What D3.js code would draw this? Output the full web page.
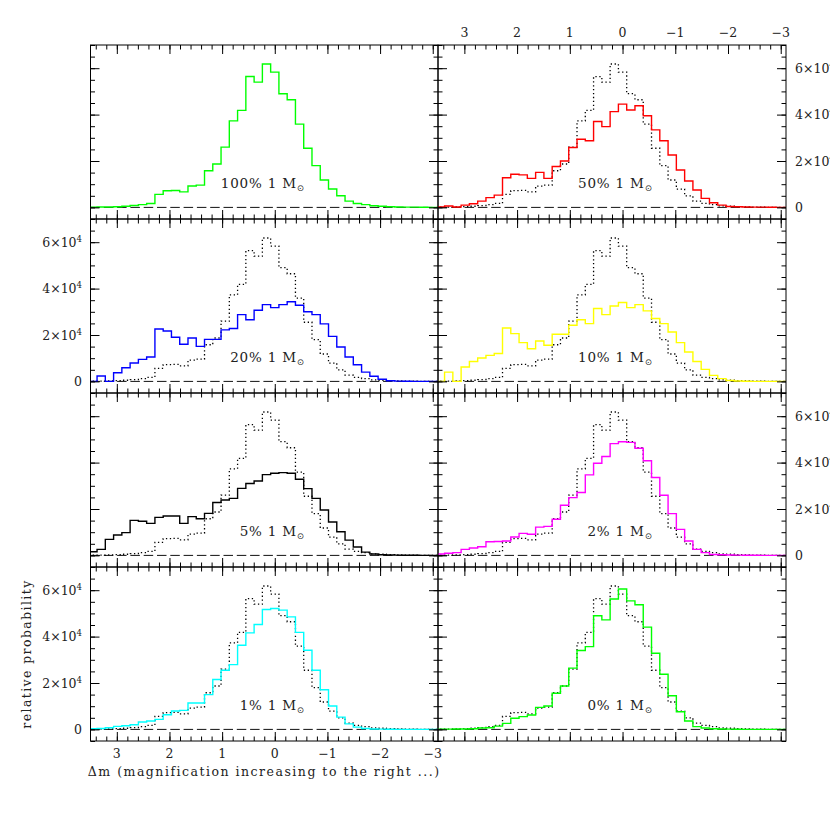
<!DOCTYPE html>
<html><head><meta charset="utf-8">
<script src="https://cdn.jsdelivr.net/npm/d3@7"></script>
<style>body{margin:0;background:#fff} svg{display:block}</style>
</head><body><svg id="c" width="830" height="830"></svg>
<script>
// ---- data ----
const binWidth = 0.157;           // histogram bin width (mag)
const firstBinCenter = 3.454;     // center of first (leftmost) bin
const xTicks = [3, 2, 1, 0, -1, -2, -3];
const yTicks = [0, 20000, 40000, 60000];
const yTickLabels = ["0", "2×10", "4×10", "6×10"];
const panelLabels = ["100%", "50%", "20%", "10%", "5%", "2%", "1%", "0%"];
const panelColors = ["#00ff00", "#ff0000", "#0000ff", "#ffff00", "#000000", "#ff00ff", "#00ffff", "#00ff00"];

const p100 = [100,150,200,300,500,800,1200,1700,5600,7200,7300,6700,9200,9600,15800,18700,26000,37300,41800,56400,54000,61800,58300,49000,46400,35900,25500,18000,11800,7900,5000,2700,1700,1200,700,500,300,200,100,100,50,0,0];
const p50 = [200,600,200,1000,1600,2700,4200,5300,12800,14300,14000,12500,15100,12500,17600,20000,25800,29400,28700,37000,34800,41300,44500,42000,43800,39500,33400,28700,22600,16100,11400,7500,3900,2000,1000,400,300,200,100,100,50,0,0];
const p20 = [0,2300,0,3700,5900,7900,9500,10500,22600,21700,19000,16000,18700,15100,18100,18100,22200,22800,28800,26600,30700,33100,31800,33100,34300,32800,30000,28800,24800,19400,14800,10500,7200,4000,2200,900,300,100,50,0,0,0,0];
const p10 = [0,4000,0,6200,8600,10100,11200,12000,23000,20600,16700,14100,17400,15600,20300,20300,24200,26600,24900,31400,28800,32500,34000,31800,33100,30400,27100,24900,21300,16700,12700,8600,5200,2600,1200,400,150,50,0,0,0,0,0];
const p5 = [1600,2600,6900,8800,9800,15100,14700,13800,16400,17000,17000,13800,16700,15800,18100,22800,23900,24600,28900,31000,32100,34800,35400,35700,35400,32800,28800,24600,19600,14400,10200,6600,3600,1400,600,300,150,100,50,50,0,0,0];
const p2 = [600,900,1200,2600,3200,3700,5900,6000,6200,7900,9500,9100,12200,12500,15600,21600,24900,27100,34700,39700,42600,48200,49000,48700,46200,40800,33600,25900,18000,11200,6200,2600,1200,400,300,150,100,50,50,0,0,0,0];
const p1 = [300,400,700,1300,1600,2000,3200,3600,4300,6300,7900,8200,11400,11400,15000,21500,25500,27900,36300,41600,45200,51700,52100,51400,48500,41800,34100,25500,17100,10100,5300,2400,1000,400,150,100,50,0,0,0,0,0,0];
const p0 = [100,100,150,200,300,600,700,1400,2600,4800,5500,6200,9500,10100,15600,18700,26400,34000,35700,49000,47200,56200,60500,55400,53700,44100,32800,23800,14500,7600,3600,1200,600,300,150,100,50,0,0,0,0,0,0];
const panelSeries = [p100, p50, p20, p10, p5, p2, p1, p0];

// ---- layout ----
const W = 830, H = 830;
const colX = [[90.5, 438], [438, 786]];
const rowTop = 45, rowH = 174;
const xDomain = [3.5, -3.1], yDomain = [-5000, 70000];
const font = "'DejaVu Serif', 'Liberation Serif', serif";
const svg = d3.select("#c");
svg.append("rect").attr("width", W).attr("height", H).attr("fill", "#fff");

function stepPoints(vals) {
  const pts = [];
  vals.forEach((v, k) => {
    const c = firstBinCenter - k * binWidth;
    pts.push([c + binWidth / 2, v], [c - binWidth / 2, v]);
  });
  return pts;
}
const fmtX = d => d < 0 ? "\u2212" + (-d) : String(d);
const range = (a, b, s) => d3.range(Math.round((b - a) / s) + 1).map(i => +(a + i * s).toFixed(4));
const xMinor = range(-3.0, 3.4, 0.2);
const yMinor = range(-5000, 70000, 5000);

panelSeries.forEach((vals, i) => {
  const r = Math.floor(i / 2), c = i % 2;
  const x = d3.scaleLinear().domain(xDomain).range(colX[c]);
  const y0 = rowTop + r * rowH, y1 = y0 + rowH;
  const y = d3.scaleLinear().domain(yDomain).range([y1, y0]);
  const g = svg.append("g");
  const cid = "clip" + i;
  g.append("clipPath").attr("id", cid).append("rect")
    .attr("x", colX[c][0]).attr("y", y0).attr("width", colX[c][1] - colX[c][0]).attr("height", rowH);
  const inner = g.append("g").attr("clip-path", `url(#${cid})`);
  inner.append("line").attr("x1", x(xDomain[0])).attr("x2", x(xDomain[1]))
    .attr("y1", y(0)).attr("y2", y(0)).attr("stroke", "#111").attr("stroke-width", 1)
    .attr("stroke-dasharray", "9.5,3.8");
  const line = d3.line().x(d => x(d[0])).y(d => y(d[1]));
  if (i > 0) {
    inner.append("path").attr("d", line(stepPoints(p100))).attr("fill", "none")
      .attr("stroke", "#000").attr("stroke-width", 1.3).attr("stroke-dasharray", "1.3,2.6");
  }
  inner.append("path").attr("d", line(stepPoints(vals))).attr("fill", "none")
    .attr("stroke", panelColors[i]).attr("stroke-width", 1.4);

  // ticks (inward on all four sides)
  const tickStyle = sel => { sel.select(".domain").remove(); sel.selectAll("line").attr("stroke", "#000"); sel.selectAll("text").remove(); };
  [[xTicks, 9], [xMinor, 4.5]].forEach(([tv, len]) => {
    g.append("g").attr("transform", `translate(0,${y1})`).call(d3.axisTop(x).tickValues(tv).tickSize(len)).call(tickStyle);
    g.append("g").attr("transform", `translate(0,${y0})`).call(d3.axisBottom(x).tickValues(tv).tickSize(len)).call(tickStyle);
  });
  [[yTicks, 9], [yMinor, 4.5]].forEach(([tv, len]) => {
    g.append("g").attr("transform", `translate(${colX[c][0]},0)`).call(d3.axisRight(y).tickValues(tv).tickSize(len)).call(tickStyle);
    g.append("g").attr("transform", `translate(${colX[c][1]},0)`).call(d3.axisLeft(y).tickValues(tv).tickSize(len)).call(tickStyle);
  });
  g.append("rect").attr("x", colX[c][0]).attr("y", y0).attr("width", colX[c][1] - colX[c][0]).attr("height", rowH)
    .attr("fill", "none").attr("stroke", "#000").attr("stroke-width", 1);

  // y tick labels: left on left column rows 2,4; right on right column rows 1,3
  const leftLabels = c === 0 && (r === 1 || r === 3);
  const rightLabels = c === 1 && (r === 0 || r === 2);
  if (leftLabels || rightLabels) {
    yTicks.forEach((v, k) => {
      const t = g.append("text").attr("y", y(v) + 4.5)
        .attr("x", leftLabels ? colX[c][0] - 8.5 : colX[c][1] + 9)
        .attr("text-anchor", leftLabels ? "end" : "start")
        .attr("font-family", font).attr("font-size", 12.5).attr("fill", "#222");
      t.append("tspan").text(yTickLabels[k]);
      if (v !== 0) t.append("tspan").attr("font-size", 8.5).attr("dy", -5).text("4");
    });
  }
  // top x labels on right column, row 1
  if (r === 0 && c === 1) {
    xTicks.forEach(v => g.append("text").attr("x", x(v)).attr("y", y0 - 8)
      .attr("text-anchor", "middle").attr("font-family", font).attr("font-size", 12.5).attr("fill", "#222").text(fmtX(v)));
  }
  // bottom x labels on left column, row 4
  if (r === 3 && c === 0) {
    xTicks.forEach(v => g.append("text").attr("x", x(v)).attr("y", y1 + 17)
      .attr("text-anchor", "middle").attr("font-family", font).attr("font-size", 12.5).attr("fill", "#222").text(fmtX(v)));
  }
  // panel label
  const lab = g.append("text").attr("x", x(-0.57)).attr("y", y(8500)).attr("text-anchor", "end")
    .attr("font-family", font).attr("font-size", 13.5).attr("letter-spacing", 0.8).attr("fill", "#222");
  lab.append("tspan").text(panelLabels[i] + " 1 M");
  lab.append("tspan").attr("font-family", "'DejaVu Sans', sans-serif").attr("font-size", 8.5).attr("dy", 3).text("\u2299");
});

// axis titles
svg.append("text").attr("x", (colX[0][0] + colX[0][1]) / 2).attr("y", 776).attr("text-anchor", "middle")
  .attr("font-family", font).attr("font-size", 12.5).attr("letter-spacing", 1.5).attr("fill", "#222")
  .text("\u0394m (magnification increasing to the right ...)");
svg.append("text").attr("transform", `translate(31,${rowTop + 3.5 * rowH}) rotate(-90)`).attr("text-anchor", "middle")
  .attr("font-family", font).attr("font-size", 12.5).attr("letter-spacing", 1.4).attr("fill", "#222")
  .text("relative probability");
</script></body></html>
